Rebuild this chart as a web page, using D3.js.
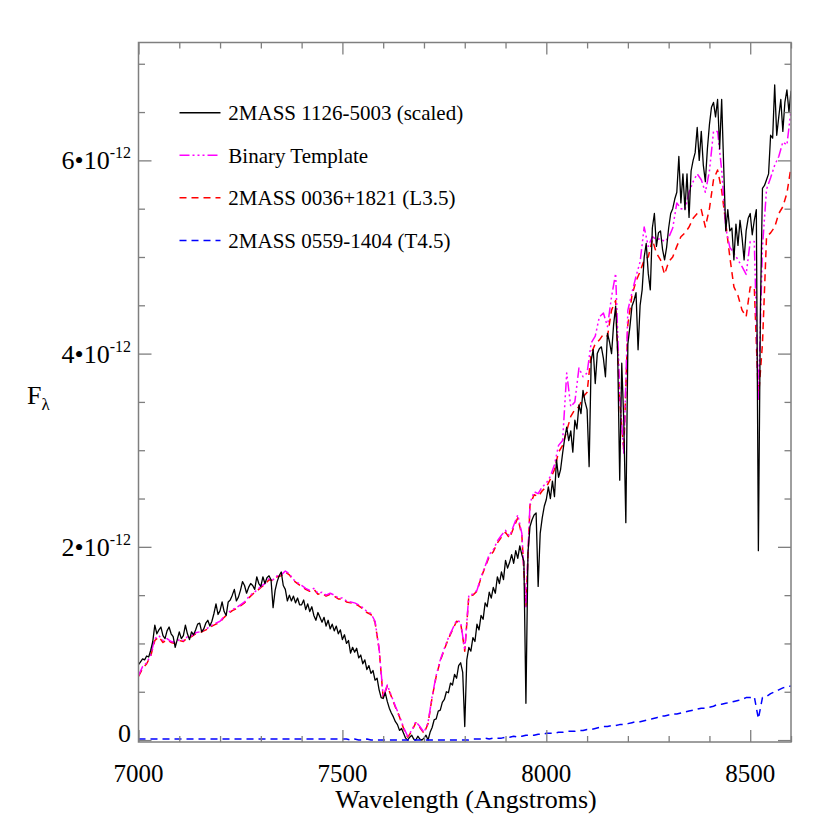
<!DOCTYPE html>
<html><head><meta charset="utf-8">
<script src="https://cdn.jsdelivr.net/npm/d3@7"></script>
<style>body{margin:0;background:#fff}</style>
</head><body>
<svg id="chart" width="830" height="830"></svg>
<script>
// ---------- DATA (flux in units of 1e-12) ----------
const seriesNames = ["2MASS 1126-5003 (scaled)", "Binary Template", "2MASS 0036+1821 (L3.5)", "2MASS 0559-1404 (T4.5)"];
const seriesColors = ["#000000", "#ff00ff", "#ff0000", "#0000ff"];
const xTickValues = [7000, 7500, 8000, 8500];
const yTickValues = [0, 2, 4, 6];
const waveStart = 7000;
const blackStep = 5;     // Angstrom spacing of the 2MASS 1126-5003 samples
const otherStep = 10;    // Angstrom spacing of the other spectra

const blackFlux = [
0.78,0.81,0.84,0.83,0.87,0.86,0.93,1.02,1.19,1.10,1.14,1.17,1.08,1.05,1.13,1.17,1.10,1.07,0.96,1.04,
1.12,1.05,1.08,1.19,1.10,1.04,1.12,1.09,1.14,1.20,1.21,1.12,1.15,1.21,1.24,1.18,1.23,1.31,1.41,1.30,
1.34,1.43,1.33,1.29,1.43,1.45,1.50,1.56,1.44,1.48,1.55,1.64,1.60,1.52,1.58,1.62,1.60,1.56,1.69,1.62,
1.59,1.69,1.62,1.68,1.70,1.66,1.37,1.55,1.64,1.70,1.74,1.60,1.56,1.44,1.50,1.44,1.49,1.42,1.47,1.40,
1.40,1.45,1.35,1.41,1.33,1.38,1.29,1.24,1.32,1.27,1.22,1.27,1.18,1.24,1.15,1.20,1.13,1.18,1.10,1.14,
1.04,1.09,1.00,1.03,0.90,0.96,0.91,0.95,0.85,0.88,0.79,0.83,0.73,0.77,0.69,0.72,0.62,0.64,0.52,0.44,
0.43,0.49,0.40,0.33,0.28,0.24,0.19,0.16,0.10,0.12,0.07,0.02,0.00,0.03,0.05,0.01,0.00,0.04,0.01,0.00,
0.02,0.05,0.00,0.08,0.13,0.21,0.22,0.30,0.31,0.39,0.42,0.50,0.49,0.59,0.57,0.68,0.64,0.77,0.80,0.70,
0.14,0.83,0.96,0.92,1.06,1.02,1.20,1.14,1.29,1.25,1.42,1.38,1.53,1.47,1.58,1.52,1.69,1.62,1.74,1.66,
1.86,1.78,1.84,1.92,1.83,1.96,1.88,2.01,1.92,1.85,0.38,1.94,2.21,2.28,2.33,2.35,1.59,2.14,2.30,2.42,
2.49,2.62,2.50,2.68,2.52,2.90,2.72,2.80,2.97,3.12,3.24,3.10,3.20,2.98,3.31,3.22,3.47,3.38,3.62,3.50,
3.42,2.83,3.93,4.04,3.69,4.00,4.05,4.07,3.95,3.76,4.21,4.12,4.00,4.30,4.49,4.00,2.69,3.90,3.30,2.25,
4.10,4.28,4.49,4.55,4.63,4.04,4.50,4.66,5.00,5.14,4.83,4.66,5.30,5.45,5.11,5.25,5.27,5.08,4.97,5.10,
5.30,5.45,5.50,5.60,5.67,6.04,5.56,5.86,5.49,5.86,5.41,5.89,6.00,6.08,6.34,6.00,6.30,5.95,5.78,6.12,
6.37,6.55,6.60,6.45,6.63,6.12,6.63,5.93,5.27,5.49,5.27,5.30,4.97,5.34,5.12,5.38,5.20,4.97,5.27,5.40,
5.45,5.23,5.38,5.49,1.96,4.45,5.71,5.74,5.80,5.86,6.26,6.23,6.78,6.26,6.45,6.63,6.30,6.60,6.73,6.50,
6.72];

const templateFlux = [
0.67,0.76,0.80,0.88,1.05,1.08,1.03,1.05,1.02,1.01,
1.04,1.03,1.07,1.08,1.11,1.12,1.14,1.16,1.19,1.21,
1.23,1.28,1.32,1.35,1.37,1.40,1.43,1.48,1.52,1.55,
1.59,1.62,1.67,1.66,1.70,1.71,1.75,1.72,1.66,1.63,
1.60,1.57,1.55,1.57,1.52,1.53,1.50,1.52,1.50,1.47,
1.47,1.44,1.43,1.42,1.40,1.37,1.33,1.31,1.23,0.95,
0.45,0.57,0.46,0.35,0.25,0.13,0.04,0.10,0.19,0.14,
0.08,0.18,0.45,0.67,0.83,0.95,1.06,1.15,1.24,1.22,
0.93,1.50,1.51,1.55,1.69,1.80,1.92,1.97,2.06,2.12,
2.17,2.11,2.22,2.33,2.14,1.38,2.45,2.57,2.55,2.62,
2.66,2.73,2.85,3.05,3.10,3.80,3.45,3.50,3.85,3.76,
3.80,4.11,4.18,4.38,4.42,4.28,4.59,4.83,3.59,2.97,
4.45,4.63,4.80,4.95,5.31,5.11,5.21,5.18,5.19,5.16,
5.20,5.30,5.56,5.50,5.49,5.67,5.78,5.86,5.80,5.67,
5.89,6.30,6.30,5.90,5.30,5.10,5.04,4.97,4.90,4.82,
5.16,5.16,3.53,5.10,5.70,5.82,5.95,6.04,6.19,6.16,
6.52];

const l35Flux = [
0.66,0.74,0.79,0.87,1.03,1.07,1.01,1.04,1.01,1.00,
1.03,1.02,1.06,1.07,1.10,1.11,1.13,1.15,1.18,1.20,
1.22,1.27,1.31,1.34,1.36,1.39,1.42,1.47,1.51,1.54,
1.58,1.61,1.66,1.65,1.69,1.70,1.74,1.71,1.65,1.62,
1.59,1.56,1.54,1.56,1.51,1.52,1.49,1.51,1.49,1.46,
1.46,1.43,1.42,1.41,1.39,1.36,1.32,1.30,1.22,0.94,
0.44,0.56,0.45,0.34,0.24,0.12,0.03,0.09,0.18,0.13,
0.07,0.17,0.44,0.66,0.82,0.94,1.05,1.14,1.23,1.21,
0.92,1.49,1.50,1.54,1.68,1.79,1.90,1.95,2.04,2.10,
2.15,2.09,2.20,2.30,2.12,1.38,2.43,2.54,2.52,2.58,
2.62,2.70,2.80,2.98,3.05,3.20,3.35,3.42,3.45,3.55,
3.60,4.00,4.10,4.14,4.20,4.18,4.45,4.55,3.50,3.00,
4.30,4.60,4.75,4.85,4.97,5.00,5.18,5.04,4.97,4.82,
4.95,5.00,5.11,5.21,5.25,5.31,5.40,5.45,5.49,5.31,
5.50,5.80,5.90,5.69,5.35,5.00,4.69,4.60,4.45,4.38,
4.69,4.69,3.53,4.10,5.21,5.25,5.31,5.45,5.52,5.66,
5.93];

const t45Flux = [
0.01,0.01,0.01,0.01,0.01,0.01,0.01,0.01,0.01,0.01,
0.01,0.01,0.01,0.01,0.01,0.01,0.01,0.01,0.01,0.01,
0.01,0.01,0.01,0.01,0.01,0.01,0.01,0.01,0.01,0.01,
0.01,0.01,0.01,0.01,0.01,0.01,0.01,0.01,0.01,0.01,
0.01,0.01,0.01,0.01,0.01,0.01,0.01,0.01,0.01,0.01,
0.01,0.01,0.00,0.01,0.00,0.00,0.01,0.00,0.00,0.00,
0.00,0.00,0.00,0.00,0.00,0.00,0.00,0.00,0.00,0.00,
0.00,0.00,0.00,0.00,0.00,0.00,0.00,0.00,0.00,0.00,
0.00,0.00,0.01,0.01,0.01,0.02,0.01,0.02,0.02,0.02,
0.03,0.03,0.04,0.03,0.04,0.05,0.05,0.05,0.06,0.06,
0.07,0.07,0.07,0.08,0.08,0.09,0.09,0.09,0.10,0.10,
0.11,0.11,0.12,0.13,0.14,0.14,0.15,0.15,0.16,0.16,
0.17,0.18,0.19,0.19,0.20,0.21,0.22,0.23,0.25,0.25,
0.26,0.27,0.27,0.28,0.29,0.30,0.31,0.32,0.33,0.33,
0.34,0.35,0.37,0.37,0.38,0.39,0.40,0.41,0.42,0.44,
0.44,0.45,0.22,0.44,0.45,0.48,0.50,0.52,0.54,0.55,
0.56];

// ---------- LAYOUT ----------
const svg = d3.select("#chart");
const L = 138.5, R = 791, T = 42.5, B = 742;
const x = d3.scaleLinear().domain([7000, 8600]).range([L, R]);
const y = d3.scaleLinear().domain([-0.02, 7.22]).range([B, T]);
const axisColor = "#7f7f7f";
const serif = "'Liberation Serif','Times New Roman',Times,serif";

svg.append("rect").attr("width", 830).attr("height", 830).attr("fill", "#fff");

svg.append("defs").append("clipPath").attr("id", "clip")
  .append("rect").attr("x", L).attr("y", T).attr("width", R - L).attr("height", B - T);

const toPoints = (arr, step) => arr.map((v, i) => [waveStart + i * step, v]);
const line = d3.line().x(d => x(d[0])).y(d => y(d[1]));

const plot = svg.append("g").attr("clip-path", "url(#clip)");
const specs = [
  {data: toPoints(l35Flux, otherStep), color: seriesColors[2], dash: "7,5", w: 1.5},
  {data: toPoints(templateFlux, otherStep), color: seriesColors[1], dash: "10,3,2,3,2,3,2,3", w: 1.5},
  {data: toPoints(blackFlux, blackStep), color: seriesColors[0], dash: null, w: 1.3},
  {data: toPoints(t45Flux, otherStep), color: seriesColors[3], dash: "7,5", w: 1.5}
];
specs.forEach(s => {
  plot.append("path").datum(s.data)
    .attr("d", line).attr("fill", "none")
    .attr("stroke", s.color).attr("stroke-width", s.w)
    .attr("stroke-dasharray", s.dash)
    .attr("stroke-linejoin", "round");
});

// ---------- AXES (ticks inward on all four sides) ----------
const xMinor = d3.range(7000, 8601, 100).filter(v => v % 500 !== 0);
const yMinor = d3.range(0, 7.01, 0.5).filter(v => Math.abs(v % 2) > 1e-9);
function styleAxis(g) {
  g.select(".domain").remove();
  g.selectAll("line").attr("stroke", axisColor).attr("stroke-width", 1.3);
  g.selectAll("text").remove();
}
svg.append("g").attr("transform", `translate(0,${B})`).call(d3.axisBottom(x).tickValues(xMinor).tickSize(-6)).call(styleAxis);
svg.append("g").attr("transform", `translate(0,${B})`).call(d3.axisBottom(x).tickValues(xTickValues).tickSize(-12)).call(styleAxis);
svg.append("g").attr("transform", `translate(0,${T})`).call(d3.axisTop(x).tickValues(xMinor).tickSize(-6)).call(styleAxis);
svg.append("g").attr("transform", `translate(0,${T})`).call(d3.axisTop(x).tickValues(xTickValues).tickSize(-12)).call(styleAxis);
svg.append("g").attr("transform", `translate(${L},0)`).call(d3.axisLeft(y).tickValues(yMinor).tickSize(-6.5)).call(styleAxis);
svg.append("g").attr("transform", `translate(${L},0)`).call(d3.axisLeft(y).tickValues(yTickValues).tickSize(-13)).call(styleAxis);
svg.append("g").attr("transform", `translate(${R},0)`).call(d3.axisRight(y).tickValues(yMinor).tickSize(-6.5)).call(styleAxis);
svg.append("g").attr("transform", `translate(${R},0)`).call(d3.axisRight(y).tickValues(yTickValues).tickSize(-13)).call(styleAxis);

svg.append("rect").attr("x", L).attr("y", T).attr("width", R - L).attr("height", B - T)
  .attr("fill", "none").attr("stroke", axisColor).attr("stroke-width", 1.5);

// x tick labels
svg.append("g").selectAll("text").data(xTickValues).join("text")
  .attr("x", d => x(d)).attr("y", 782)
  .attr("text-anchor", "middle").attr("font-family", serif).attr("font-size", 25)
  .attr("fill", "#000").text(d => d);

// y tick labels  n•10^-12
yTickValues.forEach(v => {
  const t = svg.append("text")
    .attr("x", 131).attr("y", Math.min(y(v) + 9, 742))
    .attr("text-anchor", "end").attr("font-family", serif).attr("font-size", 26).attr("fill", "#000");
  if (v === 0) { t.text("0"); return; }
  t.append("tspan").text(v + "\u202210");
  t.append("tspan").attr("font-size", 16).attr("dy", -11).text("-12");
});

// axis titles
svg.append("text").attr("x", 466).attr("y", 808)
  .attr("text-anchor", "middle").attr("font-family", serif).attr("font-size", 26)
  .attr("fill", "#000").text("Wavelength (Angstroms)");
const yt = svg.append("text").attr("x", 27).attr("y", 404)
  .attr("font-family", serif).attr("font-size", 26).attr("fill", "#000");
yt.append("tspan").text("F");
yt.append("tspan").attr("font-size", 17).attr("dy", 6).text("\u03bb");

// ---------- LEGEND ----------
const legendDash = [null, "10,3,2,3,2,3,2,3", "7,5", "7,5"];
const legRows = [112.7, 155.2, 197.8, 240.5];
seriesNames.forEach((name, i) => {
  const g = svg.append("g");
  g.append("line").attr("x1", 179.5).attr("x2", 220.5).attr("y1", legRows[i]).attr("y2", legRows[i])
    .attr("stroke", seriesColors[i]).attr("stroke-width", 1.4).attr("stroke-dasharray", legendDash[i]);
  g.append("text").attr("x", 228.3).attr("y", legRows[i] + 7.5)
    .attr("font-family", serif).attr("font-size", 21).attr("fill", "#000").text(name);
});
</script>
</body></html>
